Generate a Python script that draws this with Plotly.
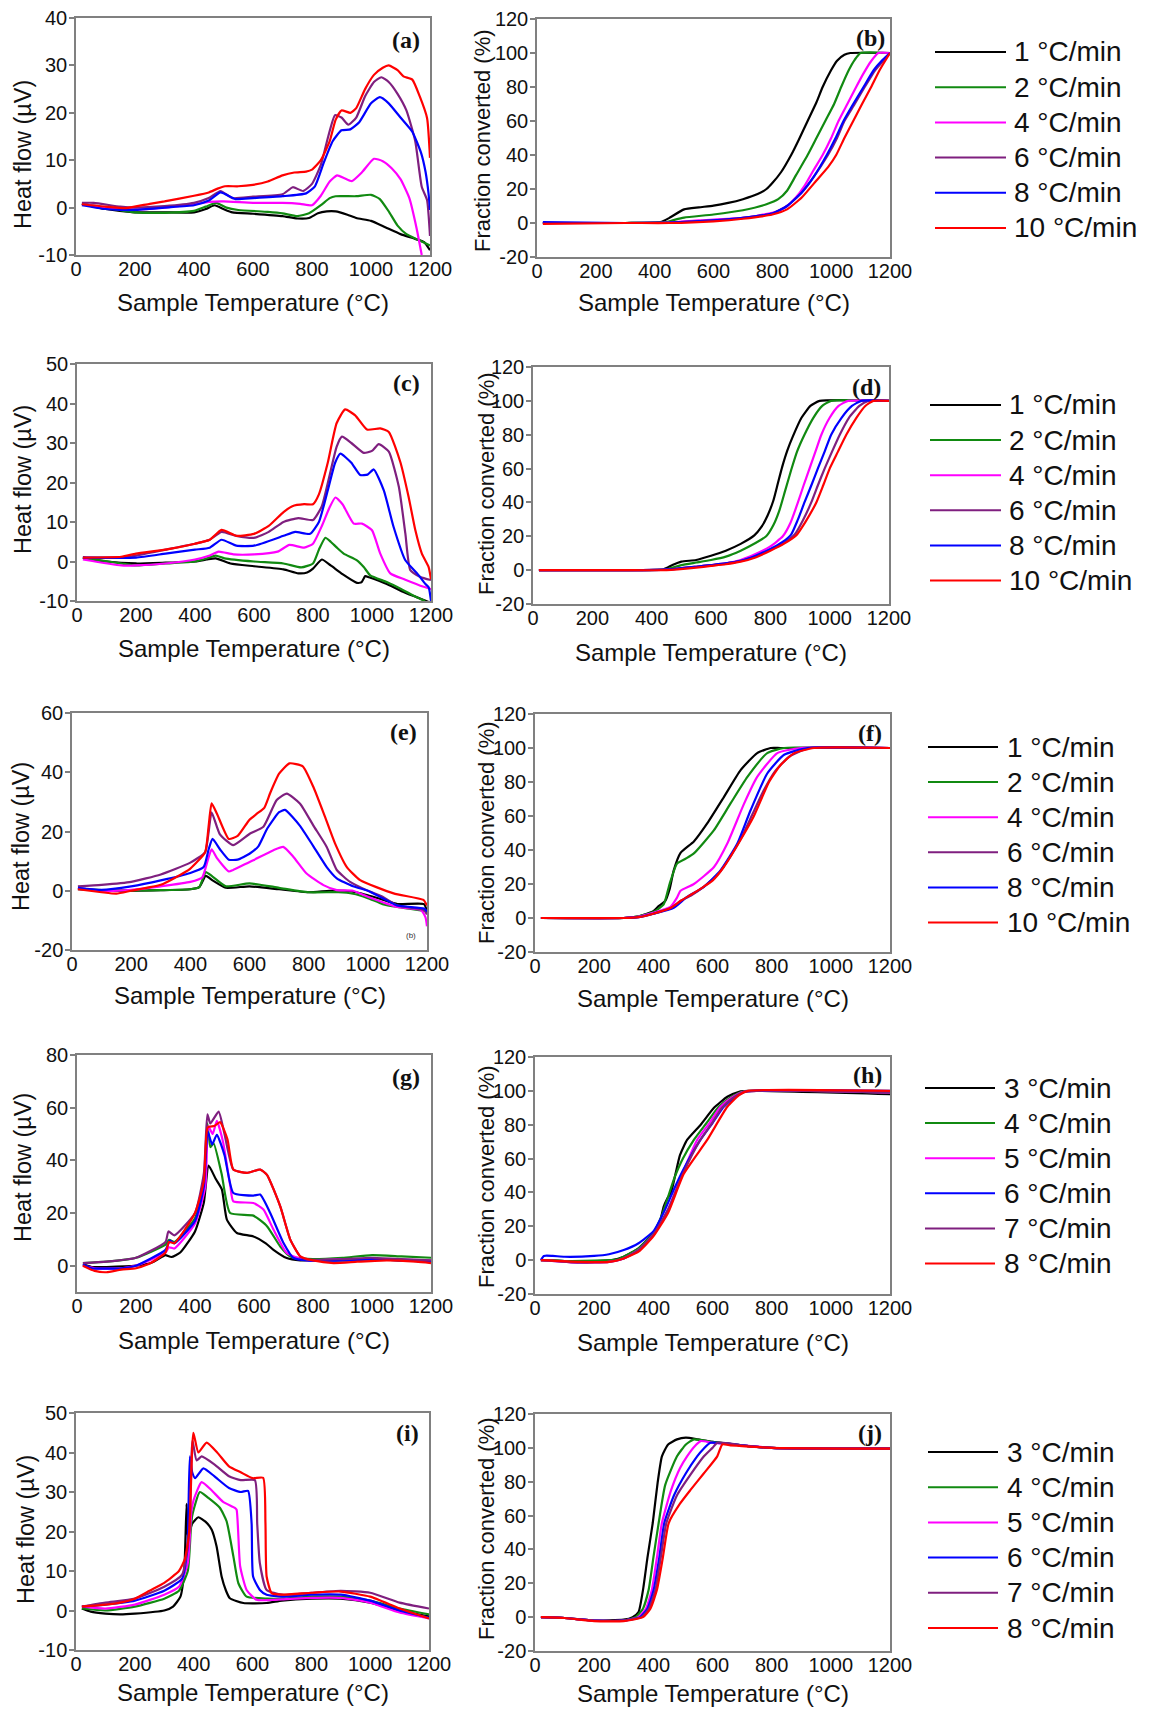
import plotly.graph_objects as go

# ------------------------------------------------------------------ data
RATES_AF = ["1 °C/min", "2 °C/min", "4 °C/min", "6 °C/min", "8 °C/min", "10 °C/min"]
RATES_GJ = ["3 °C/min", "4 °C/min", "5 °C/min", "6 °C/min", "7 °C/min", "8 °C/min"]
PANEL_LABELS = ["(a)", "(b)", "(c)", "(d)", "(e)", "(f)", "(g)", "(h)", "(i)", "(j)"]
X_TITLE = "Sample Temperature (°C)"
Y_TITLE_HEAT = "Heat flow (µV)"
Y_TITLE_CONV = "Fraction converted (%)"
X_TICKS = [0, 200, 400, 600, 800, 1000, 1200]

# ---- (a) heat flow   (series order: 1, 2, 4, 6, 8, 10 °C/min)
A_T1 = [20, 100, 200, 300, 400, 440, 470, 500, 530, 600, 700, 750, 790, 820, 850, 880, 920, 950, 1000, 1050, 1100, 1150, 1180, 1200]
A_Y1 = [0.8, -0.3, -1.0, -1.0, -1.0, -0.3, 0.5, -0.3, -1.0, -1.3, -1.8, -2.3, -2.2, -1.2, -0.8, -0.8, -1.5, -2.2, -2.8, -4.2, -5.6, -6.6, -7.3, -9.0]
A_T2 = [20, 100, 200, 300, 400, 440, 475, 510, 550, 650, 700, 750, 790, 830, 860, 880, 950, 1000, 1030, 1060, 1090, 1120, 1160, 1200]
A_Y2 = [0.8, 0.0, -1.0, -1.1, -0.7, 0.2, 1.0, 0.0, -0.5, -0.9, -1.2, -1.8, -1.2, 0.5, 2.0, 2.4, 2.4, 2.7, 1.8, -0.8, -3.8, -5.6, -6.8, -8.0]
A_T3 = [20, 100, 200, 300, 400, 450, 500, 600, 700, 760, 800, 830, 860, 885, 910, 935, 970, 1010, 1040, 1070, 1100, 1130, 1155, 1172]
A_Y3 = [0.8, 0.0, -0.4, 0.0, 0.7, 1.2, 1.3, 1.0, 1.0, 0.8, 0.5, 2.5, 5.5, 6.8, 6.2, 5.6, 7.5, 10.3, 9.8, 8.3, 6.0, 2.0, -4.5, -10.0]
A_T4 = [20, 60, 150, 200, 300, 400, 450, 490, 530, 600, 700, 735, 770, 800, 830, 855, 878, 900, 923, 950, 980, 1010, 1035, 1060, 1090, 1120, 1150, 1172, 1190, 1200]
A_Y4 = [1.0, 1.0, 0.2, 0.0, 0.3, 1.0, 2.0, 3.5, 2.0, 2.3, 2.8, 4.3, 3.5, 5.0, 9.0, 15.0, 19.5, 19.0, 17.5, 19.0, 23.5, 26.5, 27.5, 26.5, 24.0, 20.5, 14.0, 4.4, 1.6, -6.0]
A_T5 = [20, 100, 150, 200, 300, 400, 450, 490, 540, 600, 700, 780, 810, 840, 870, 900, 930, 960, 1000, 1030, 1060, 1100, 1140, 1170, 1185, 1195, 1200]
A_Y5 = [0.5, -0.3, -0.5, -0.5, 0.0, 0.5, 1.5, 3.2, 1.8, 2.0, 2.4, 3.0, 4.5, 9.5, 14.0, 16.3, 16.5, 18.0, 22.0, 23.3, 22.0, 19.0, 16.0, 11.5, 7.5, 3.0, -0.5]
A_T6 = [20, 100, 170, 250, 300, 400, 450, 480, 505, 550, 600, 650, 700, 740, 780, 800, 830, 860, 880, 900, 930, 950, 980, 1010, 1040, 1060, 1090, 1110, 1140, 1165, 1190, 1200]
A_Y6 = [0.7, 0.2, -0.1, 0.8, 1.3, 2.5, 3.2, 4.0, 4.5, 4.5, 4.8, 5.5, 6.8, 7.4, 7.6, 8.0, 10.0, 14.0, 18.5, 20.5, 20.0, 21.0, 25.0, 28.0, 29.5, 30.0, 29.0, 27.7, 27.0, 23.5, 18.9, 10.5]

# ---- (b) fraction converted
B_T1 = [20, 300, 420, 450, 500, 550, 600, 650, 700, 750, 780, 800, 830, 864, 890, 920, 950, 971, 1000, 1020, 1045, 1065, 1200]
B_Y1 = [0, 0, 0.5, 3, 8, 9.2, 10.2, 11.8, 14, 17, 20, 23.5, 30, 40, 49, 60, 71, 80, 90, 95.5, 99, 100, 100]
B_T2 = [20, 300, 440, 470, 500, 600, 700, 780, 820, 850, 880, 920, 950, 980, 1010, 1034, 1060, 1080, 1100, 1200]
B_Y2 = [0, 0, 0.5, 2, 3.2, 5, 7.5, 11, 14, 19, 28, 40, 50, 60, 70, 80, 90, 96, 100, 100]
B_T3 = [20, 300, 450, 550, 700, 800, 830, 850, 880, 910, 940, 971, 1000, 1025, 1055, 1085, 1110, 1135, 1160, 1200]
B_Y3 = [0, 0, 0.3, 1.5, 3, 6, 8, 10, 15, 22, 31, 40, 50, 60, 70, 80, 88, 95, 100, 100]
B_T4 = [20, 300, 450, 600, 700, 800, 850, 900, 940, 989, 1020, 1045, 1080, 1114, 1150, 1180, 1200]
B_Y4 = [0, 0, 0.3, 1.5, 3, 5.5, 10, 18, 27, 40, 50, 60, 70, 80, 90, 96, 100]
B_T5 = [20, 300, 450, 600, 700, 800, 850, 900, 940, 985, 1015, 1042, 1075, 1110, 1145, 1175, 1200]
B_Y5 = [0.5, 0, 0.3, 1.5, 3, 5.5, 10, 18, 27, 40, 50, 60, 70, 80, 90, 96, 100]
B_T6 = [20, 300, 450, 600, 700, 800, 850, 900, 950, 990, 1017, 1045, 1075, 1105, 1136, 1165, 1200]
B_Y6 = [-0.5, 0, 0, 1, 2.5, 5, 8, 15, 25, 33, 40, 50, 60, 70, 80, 90, 100]

# ---- (c) heat flow
C_T1 = [20, 100, 200, 300, 400, 440, 470, 520, 600, 700, 750, 780, 800, 830, 860, 900, 949, 965, 977, 990, 1050, 1100, 1150, 1200]
C_Y1 = [1, 0, -0.5, -0.3, 0, 0.5, 0.8, -0.5, -1.2, -2, -3, -2.8, -1.8, 0.5, -1, -3.2, -5.4, -5.2, -3.7, -4, -5.7, -7.5, -9, -10.5]
C_T2 = [20, 150, 200, 300, 400, 440, 470, 500, 600, 700, 760, 800, 820, 842, 860, 881, 904, 949, 972, 994, 1050, 1100, 1150, 1180]
C_Y2 = [1, -0.5, -1, -0.5, 0, 0.8, 1.5, 0.8, 0, -0.5, -1.5, -0.5, 3, 6, 5, 3.5, 2, 0.3, -1.4, -3.5, -5.2, -7, -9, -10]
C_T3 = [20, 150, 200, 300, 400, 450, 480, 530, 600, 680, 720, 770, 800, 830, 855, 876, 900, 938, 966, 1000, 1028, 1062, 1113, 1175, 1200]
C_Y3 = [0.5, -1, -1, -0.5, 0.5, 1.5, 2.5, 1.8, 1.8, 2.5, 4.2, 3.5, 4.5, 9, 13.5, 16.2, 14.5, 9.6, 9.6, 7.9, 2, -3, -4.6, -6.4, -7]
C_T4 = [20, 150, 200, 300, 400, 450, 490, 540, 600, 650, 700, 750, 800, 830, 860, 880, 898, 930, 972, 1000, 1023, 1057, 1091, 1113, 1130, 1164, 1200]
C_Y4 = [1, 1, 1.5, 3, 4.5, 5.5, 7.5, 6.5, 6, 7.5, 10, 11, 10.5, 14, 23, 29, 31.6, 30, 27.5, 28, 29.7, 27.8, 18.9, 7.1, -2.2, -3.9, -4.7]
C_T5 = [20, 200, 300, 400, 450, 490, 540, 600, 700, 740, 790, 820, 850, 875, 893, 930, 960, 985, 1006, 1040, 1073, 1113, 1153, 1181, 1192, 1200]
C_Y5 = [1, 1, 2, 3, 3.5, 5.5, 4, 4, 6.5, 7.5, 7, 10, 18, 25, 27.3, 25, 21.9, 22, 23.3, 18, 8.8, 0.3, -3, -5.7, -6.5, -10]
C_T6 = [20, 150, 200, 300, 400, 450, 490, 540, 600, 650, 700, 730, 770, 800, 820, 850, 880, 909, 943, 983, 1028, 1057, 1096, 1124, 1147, 1169, 1192, 1200]
C_Y6 = [1, 1.2, 2, 3, 4.5, 5.5, 8, 6.5, 7, 9, 12.5, 14, 14.5, 14.5, 17, 25, 35, 38.5, 37, 33.4, 33.7, 32.8, 25.2, 16.4, 7.9, 2, -1.4, -4.5]

# ---- (d) fraction converted
D_T1 = [20, 300, 440, 470, 500, 550, 600, 650, 700, 746, 770, 790, 810, 825, 840, 858, 876, 905, 935, 966, 1200]
D_Y1 = [0, 0, 0.5, 3, 5, 6, 8.5, 11.5, 15.5, 20.5, 25.5, 32, 41, 51, 61, 71, 79, 90, 97, 100, 100]
D_T2 = [20, 300, 450, 500, 550, 600, 650, 700, 750, 786, 810, 830, 850, 870, 890, 915, 945, 975, 1005, 1200]
D_Y2 = [0, 0, 0.5, 3, 4.5, 6, 8, 11.5, 16, 20, 26.5, 35, 47, 59, 70, 80, 90, 97, 100, 100]
D_T3 = [20, 300, 450, 550, 600, 650, 700, 750, 800, 842, 868, 893, 912, 932, 952, 972, 1000, 1030, 1062, 1200]
D_Y3 = [0, 0, 0.3, 2, 3, 4, 6, 9.5, 14, 20, 28, 40, 50, 60, 70, 80, 90, 97, 100, 100]
D_T4 = [20, 300, 450, 550, 600, 650, 700, 750, 800, 845, 882, 910, 938, 960, 983, 1008, 1034, 1065, 1100, 1130, 1200]
D_Y4 = [0, 0, 0.3, 2, 3, 4, 5.5, 8, 12, 16, 21, 29.5, 40, 50, 60, 70, 80, 90, 97, 100, 100]
D_T5 = [20, 300, 450, 550, 600, 650, 700, 750, 800, 840, 870, 892, 915, 938, 960, 983, 1005, 1040, 1075, 1107, 1200]
D_Y5 = [0, 0, 0.3, 2, 3, 4, 5.5, 8.5, 12.5, 16.5, 21, 29.5, 40, 50, 60, 70, 80, 90, 97, 100, 100]
D_T6 = [20, 300, 450, 550, 600, 650, 700, 750, 800, 845, 887, 920, 955, 978, 1000, 1028, 1056, 1090, 1120, 1147, 1200]
D_Y6 = [0, 0, 0, 1.5, 2.5, 3.5, 5, 7.5, 11.5, 15.5, 20.5, 29, 40, 50, 60, 70, 80, 90, 97, 100, 100]

# ---- (e) heat flow
E_T1 = [20, 100, 300, 400, 430, 452, 475, 520, 600, 700, 800, 870, 920, 960, 1000, 1050, 1100, 1190, 1200]
E_Y1 = [0.5, 0, 0.2, 0.5, 1.2, 5, 3.5, 1, 1.5, 0.5, -0.5, 0, 0, -0.5, -1.5, -3, -4.5, -4.5, -7]
E_T2 = [20, 100, 300, 400, 430, 452, 475, 520, 600, 700, 800, 900, 950, 1000, 1050, 1100, 1200]
E_Y2 = [0.8, 0.2, 0.2, 0.5, 1.2, 6.3, 4.8, 1.5, 2.5, 1, -0.5, -0.5, -1, -2.5, -4.5, -5.5, -7]
E_T3 = [20, 100, 200, 300, 400, 440, 458, 472, 490, 530, 545, 613, 681, 714, 748, 793, 850, 895, 950, 1000, 1100, 1180, 1195, 1200]
E_Y3 = [1, 0, 0.3, 1.5, 3, 4.5, 10, 14, 11, 6.5, 7, 10.3, 13.7, 14.8, 11.5, 5.8, 1.9, 0.2, 0, -2, -5.5, -6.5, -9, -12]
E_T4 = [20, 100, 200, 300, 400, 450, 462, 472, 500, 545, 602, 647, 692, 726, 771, 816, 861, 895, 940, 1000, 1050, 1100, 1190, 1200]
E_Y4 = [1.5, 2, 3, 5.5, 9.5, 13, 20, 26.5, 19, 15.4, 19.3, 21.6, 30.6, 32.8, 29.4, 22, 14.8, 7, 3, 0, -2, -5, -6.5, -8]
E_T5 = [20, 100, 200, 300, 400, 445, 462, 475, 500, 530, 560, 600, 630, 660, 700, 720, 770, 816, 861, 895, 950, 1000, 1050, 1100, 1190, 1200]
E_Y5 = [1, 0.3, 1.5, 3.5, 6, 8, 14, 17.5, 14, 10.5, 10.5, 12.5, 15, 21, 26.5, 27.3, 22, 15, 8, 4.2, 1.5, 0, -2.5, -5, -6, -7]
E_T6 = [20, 100, 150, 200, 300, 350, 400, 450, 462, 472, 490, 530, 560, 600, 625, 650, 670, 700, 735, 780, 816, 855, 889, 929, 974, 1087, 1188, 1200]
E_Y6 = [0.5, -0.5, -1, 0, 2, 4.5, 7.5, 13, 22, 29.5, 26, 17.5, 18.5, 24, 26, 28, 33, 39.5, 43, 42, 35, 25, 16, 8, 3.6, -0.9, -3.1, -5]

# ---- (f) fraction converted
F_T1 = [20, 300, 350, 400, 418, 440, 455, 469, 492, 537, 582, 638, 695, 751, 797, 830, 1200]
F_Y1 = [0, 0, 1, 4, 7, 10, 17, 28, 38.3, 45, 55.6, 71, 87, 97, 100, 100, 100]
F_T2 = [20, 300, 350, 400, 435, 455, 480, 510, 537, 605, 661, 718, 785, 842, 1200]
F_Y2 = [0, 0, 1, 3.5, 8, 20, 32, 35, 38, 51.7, 67.4, 83, 97, 100, 100]
F_T3 = [20, 300, 350, 400, 458, 480, 492, 537, 605, 650, 706, 751, 819, 898, 1200]
F_Y3 = [0, 0, 0.8, 3, 6.5, 12, 16, 20, 30, 43.8, 67, 83, 97, 100, 100]
F_T4 = [20, 300, 350, 400, 460, 492, 530, 571, 620, 660, 700, 735, 770, 810, 860, 930, 1200]
F_Y4 = [0, 0, 0.5, 2.5, 6, 10, 13.5, 18.5, 26, 36, 48, 61, 74, 86, 95, 100, 100]
F_T5 = [20, 300, 350, 400, 469, 514, 571, 627, 684, 729, 785, 842, 921, 1200]
F_Y5 = [0, 0, 0.5, 2.5, 6, 12.4, 18.3, 28, 43.8, 63.5, 85, 96, 100, 100]
F_T6 = [20, 300, 350, 400, 460, 492, 530, 571, 600, 638, 695, 740, 791, 830, 876, 943, 1200]
F_Y6 = [0, 0, 0.5, 2.5, 6, 10, 14, 18.5, 22, 30, 46, 60, 80, 90, 97, 100, 100]

# ---- (g) heat flow   (series order: 3, 4, 5, 6, 7, 8 °C/min)
G_T1 = [20, 50, 100, 200, 250, 290, 300, 320, 350, 400, 430, 446, 470, 491, 508, 542, 598, 640, 666, 711, 757, 800, 900, 1000, 1100, 1200]
G_Y1 = [0.5, -0.5, -0.5, 0, 1, 3.5, 4, 3.3, 5, 13, 24, 38, 33, 29, 17.5, 12.4, 11.1, 8.5, 6, 2.9, 2, 2, 2, 2.5, 2, 1.5]
G_T2 = [20, 100, 200, 300, 312, 330, 400, 430, 442, 452, 463, 490, 519, 598, 644, 689, 723, 760, 800, 900, 1000, 1100, 1200]
G_Y2 = [1, 1.5, 3, 8, 9.8, 9, 18, 30, 54, 45, 46.5, 35, 20, 19, 15, 7.3, 3.5, 2.8, 2.5, 3, 4, 3.5, 3]
G_T3 = [20, 60, 150, 200, 300, 312, 330, 400, 435, 445, 460, 474, 495, 520, 530, 598, 632, 666, 711, 760, 800, 900, 1000, 1200]
G_Y3 = [0, -1, -1, 0, 5, 7, 6.5, 16, 30, 53, 50, 55, 47, 30, 24.4, 23.8, 21.3, 13.7, 4.8, 2.5, 2, 2.5, 2.5, 2]
G_T4 = [20, 50, 150, 200, 300, 315, 330, 400, 430, 443, 458, 474, 500, 530, 598, 621, 655, 700, 734, 780, 900, 1000, 1100, 1200]
G_Y4 = [0.5, -1, -1, 0, 6, 9.5, 8.5, 17, 30, 51, 46, 49.7, 42, 27.6, 26.6, 27, 20, 8.6, 2.9, 2, 2, 2.5, 2, 1.5]
G_T5 = [20, 100, 200, 300, 310, 330, 400, 430, 442, 452, 480, 500, 530, 576, 621, 644, 689, 723, 757, 780, 900, 1000, 1100, 1200]
G_Y5 = [1, 1.5, 3, 9, 13, 11.5, 20, 35, 57.5, 54, 58.5, 50, 36.5, 35.2, 36.5, 34.5, 22.5, 9.9, 3.5, 2.3, 2.5, 3, 2.5, 2]
G_T6 = [20, 60, 100, 150, 200, 250, 300, 312, 330, 400, 430, 443, 465, 485, 510, 530, 576, 621, 644, 689, 723, 757, 800, 870, 950, 1050, 1150, 1200]
G_Y6 = [0, -2, -2.5, -1.5, -1, 1, 5, 9, 8.5, 20, 32, 52.5, 53, 54.5, 48, 36.5, 35.2, 36.5, 34.5, 22.5, 9.9, 3.5, 2, 1, 1.5, 2, 1.5, 1]

# ---- (h) fraction converted
H_T1 = [20, 100, 200, 260, 300, 350, 400, 418, 435, 446, 460, 475, 490, 514, 560, 605, 650, 690, 720, 1200]
H_Y1 = [0, -0.5, -0.5, 0, 2, 7, 16, 20, 31.6, 36, 40, 51, 62, 71, 80, 90, 96.5, 99.5, 100, 98]
H_T2 = [20, 100, 200, 280, 350, 400, 430, 470, 500, 537, 580, 621, 660, 700, 1200]
H_Y2 = [0, -0.5, -0.3, 0.5, 7, 16, 27, 48, 60, 71, 81, 90.6, 96, 99.5, 99]
H_T3 = [20, 150, 250, 300, 350, 400, 450, 500, 548, 590, 627, 665, 705, 1200]
H_Y3 = [0, -1.5, -1, 1, 6, 15, 30, 52, 71, 81, 90.6, 96, 99.5, 99]
H_T4 = [20, 30, 60, 100, 200, 250, 300, 350, 400, 440, 470, 500, 559, 600, 638, 675, 710, 1200]
H_Y4 = [0, 2.5, 2.5, 2, 2.5, 3.5, 6, 10, 17, 30, 42, 53, 71, 81, 90.6, 96, 99.5, 100]
H_T5 = [20, 150, 250, 300, 350, 400, 450, 500, 555, 595, 632, 670, 708, 1200]
H_Y5 = [0, -1.5, -1, 1, 6, 15, 30, 51, 70, 80, 90, 96, 99.5, 99]
H_T6 = [20, 150, 250, 300, 350, 400, 450, 503, 582, 650, 690, 720, 1200]
H_Y6 = [0, -1, -1, 1, 5, 14, 28, 51, 71, 90.6, 97.5, 100, 100]

# ---- (i) heat flow
I_T1 = [20, 50, 100, 150, 200, 300, 330, 355, 368, 376, 380, 395, 416, 440, 461, 478, 495, 510, 523, 569, 648, 700, 800, 900, 1000, 1100, 1200]
I_Y1 = [0.5, -0.3, -0.8, -1, -0.8, 0, 1, 3.5, 10, 27, 18.8, 22, 23.6, 22.5, 20.5, 16.2, 8.6, 5, 3.1, 1.9, 1.9, 2.5, 3, 3, 2, 0, -1.5]
I_T2 = [20, 100, 200, 300, 350, 380, 390, 395, 421, 450, 489, 512, 535, 552, 580, 650, 700, 800, 900, 1000, 1100, 1200]
I_Y2 = [0.5, 0, 1, 3, 5, 10, 20, 24, 30, 28.5, 26, 22.6, 13.7, 6.9, 3.5, 3, 3, 3.5, 3.5, 2.5, 0.5, -1]
I_T3 = [20, 100, 200, 300, 350, 380, 392, 400, 427, 460, 500, 540, 546, 558, 580, 614, 700, 800, 900, 1000, 1100, 1200]
I_Y3 = [1, 0.5, 1.5, 4, 6, 12, 25, 28, 32.5, 30.5, 27.5, 26, 25.5, 11.2, 5.2, 2.7, 2.8, 3.2, 3.2, 2, -0.5, -2]
I_T4 = [20, 100, 200, 300, 360, 378, 387, 395, 405, 433, 470, 520, 560, 585, 597, 602, 625, 648, 700, 800, 900, 1000, 1100, 1200]
I_Y4 = [1, 1.5, 2.5, 5, 8, 15, 39, 35, 33.5, 36, 34, 31, 30, 30.3, 22, 8.6, 5.2, 4, 3.5, 4, 4, 2.5, 0, -1.8]
I_T5 = [20, 100, 200, 300, 360, 385, 396, 410, 427, 470, 520, 560, 608, 616, 625, 648, 700, 800, 900, 1000, 1100, 1200]
I_Y5 = [1, 2, 3, 6, 9, 20, 43, 38, 39, 37, 34, 33, 33, 22, 12, 5.2, 4, 4.5, 5, 4.5, 2, 0.5]
I_T6 = [20, 100, 150, 200, 250, 300, 350, 370, 385, 399, 416, 444, 480, 520, 560, 600, 636, 644, 648, 665, 700, 800, 900, 1000, 1100, 1200]
I_Y6 = [1, 1.5, 2, 3, 5, 7, 10, 13, 20, 45, 40, 42.5, 40, 36.5, 35, 33.5, 33.6, 22.2, 8.6, 4.4, 4, 4.5, 4.8, 3.5, 0.5, -2]

# ---- (j) fraction converted
J_T1 = [20, 100, 200, 300, 330, 350, 365, 380, 398, 415, 429, 450, 480, 510, 550, 600, 700, 800, 1200]
J_Y1 = [0, -0.5, -2, -1.5, 0, 3, 16, 35, 55.6, 80, 95, 102, 105, 106, 105, 103.5, 101.5, 100, 99.5]
J_T2 = [20, 100, 200, 300, 340, 365, 384, 400, 418, 440, 480, 510, 537, 600, 700, 800, 1200]
J_Y2 = [0, -0.5, -2, -2, 0, 5, 16, 35, 55.6, 78, 95, 102, 105, 103.5, 101.5, 100, 99.5]
J_T3 = [20, 100, 200, 300, 350, 375, 395, 412, 429, 460, 490, 514, 540, 560, 600, 700, 800, 1200]
J_Y3 = [0, -0.5, -2, -2, 0, 5, 16, 35, 55.6, 75, 88, 95, 101, 104, 103, 101.5, 100, 99.5]
J_T4 = [20, 100, 200, 300, 355, 380, 401, 420, 437, 470, 510, 548, 570, 593, 650, 700, 800, 1200]
J_Y4 = [0, -0.5, -2, -2, 0, 5, 16, 35, 55.6, 72, 85, 95, 99.5, 103, 102.5, 101.5, 100, 99.5]
J_T5 = [20, 100, 200, 300, 360, 385, 407, 425, 444, 480, 525, 571, 600, 616, 660, 700, 800, 1200]
J_Y5 = [0, -0.5, -2, -2, 0, 5, 16, 35, 55.6, 72, 84, 95, 100, 103, 102.5, 101.5, 100, 99.5]
J_T6 = [20, 100, 200, 300, 365, 390, 412, 432, 452, 490, 525, 571, 616, 633, 660, 700, 800, 1200]
J_Y6 = [0, -0.5, -2.3, -2.3, 0, 5, 16, 35, 55.6, 67, 75, 85, 95, 102, 101.5, 101, 100, 99.5]

PANEL_SERIES = [
    [(A_T1, A_Y1), (A_T2, A_Y2), (A_T3, A_Y3), (A_T4, A_Y4), (A_T5, A_Y5), (A_T6, A_Y6)],
    [(B_T1, B_Y1), (B_T2, B_Y2), (B_T3, B_Y3), (B_T4, B_Y4), (B_T5, B_Y5), (B_T6, B_Y6)],
    [(C_T1, C_Y1), (C_T2, C_Y2), (C_T3, C_Y3), (C_T4, C_Y4), (C_T5, C_Y5), (C_T6, C_Y6)],
    [(D_T1, D_Y1), (D_T2, D_Y2), (D_T3, D_Y3), (D_T4, D_Y4), (D_T5, D_Y5), (D_T6, D_Y6)],
    [(E_T1, E_Y1), (E_T2, E_Y2), (E_T3, E_Y3), (E_T4, E_Y4), (E_T5, E_Y5), (E_T6, E_Y6)],
    [(F_T1, F_Y1), (F_T2, F_Y2), (F_T3, F_Y3), (F_T4, F_Y4), (F_T5, F_Y5), (F_T6, F_Y6)],
    [(G_T1, G_Y1), (G_T2, G_Y2), (G_T3, G_Y3), (G_T4, G_Y4), (G_T5, G_Y5), (G_T6, G_Y6)],
    [(H_T1, H_Y1), (H_T2, H_Y2), (H_T3, H_Y3), (H_T4, H_Y4), (H_T5, H_Y5), (H_T6, H_Y6)],
    [(I_T1, I_Y1), (I_T2, I_Y2), (I_T3, I_Y3), (I_T4, I_Y4), (I_T5, I_Y5), (I_T6, I_Y6)],
    [(J_T1, J_Y1), (J_T2, J_Y2), (J_T3, J_Y3), (J_T4, J_Y4), (J_T5, J_Y5), (J_T6, J_Y6)],
]
ROW_RATES = [RATES_AF, RATES_AF, RATES_AF, RATES_GJ, RATES_GJ]

# ------------------------------------------------------------------ style / layout
W, H = 1153, 1710          # target picture size (browser window)
OFF = 8                    # page body margin in front of the figure
FIG_W, FIG_H = W - OFF, H - OFF

BLACK, GREEN, MAGENTA, PURPLE, BLUE, RED = "#000000", "#118a11", "#ff00ff", "#7f1f7f", "#0000ff", "#ff0000"
COLORS_AF = [BLACK, GREEN, MAGENTA, PURPLE, BLUE, RED]   # 1, 2, 4, 6, 8, 10 °C/min
COLORS_GJ = [BLACK, GREEN, MAGENTA, BLUE, PURPLE, RED]   # 3, 4, 5, 6, 7, 8 °C/min
ROW_COLORS = [COLORS_AF, COLORS_AF, COLORS_AF, COLORS_GJ, COLORS_GJ]
FRAME = "#808080"
TXT = "#111111"
SANS = "Liberation Sans, Arial, sans-serif"
SERIF = "Liberation Serif, Times New Roman, serif"

# plot boxes in picture pixels: left, right, top, bottom
BOXES = [
    (76, 430, 18, 255), (537, 890, 19, 257),
    (77, 431, 364, 601), (533, 889, 367, 604),
    (72, 427, 713, 950), (535, 890, 714, 952),
    (77, 431, 1055, 1292), (535, 890, 1057, 1294),
    (76, 429, 1413, 1650), (535, 890, 1414, 1651),
]
Y_RANGES = [(-10, 40), (-20, 120), (-10, 50), (-20, 120), (-20, 60),
            (-20, 120), (-10, 80), (-20, 120), (-10, 50), (-20, 120)]
Y_DTICK = [10, 20, 10, 20, 20, 20, 20, 20, 10, 20]
Y_TICK0 = [-10, -20, -10, -20, -20, -20, 0, -20, -10, -20]
YTITLE_POS = [(23, 155), (482, 141), (23, 480), (487, 484), (21, 837),
              (486, 833), (23, 1168), (486, 1177), (26, 1530), (486, 1529)]
XTITLE_Y = [302, 303, 648, 652, 995, 998, 1340, 1342, 1692, 1693]
LABEL_POS = [(422, 40), (887, 38), (422, 383), (883, 387), (419, 732),
             (884, 733), (422, 1077), (884, 1075), (421, 1433), (884, 1433)]
LEG_ROWS = [  # line x0, line x1, text x, first y, step
    (935, 1006, 1012, 52, 35.2),
    (930, 1001, 1007, 405, 35.1),
    (928, 998, 1005, 747, 35.1),
    (925, 995, 1002, 1088, 35.1),
    (928, 998, 1005, 1452, 35.2),
]


def px(x):
    return (x - OFF) / FIG_W


def py(y):
    return 1 - (y - OFF) / FIG_H


def tick_text(v):
    return ("-" if v < 0 else "") + str(abs(int(v)))


fig = go.Figure()
layout = dict(
    template="none",
    width=FIG_W, height=FIG_H,
    margin=dict(l=0, r=0, t=0, b=0, pad=0, autoexpand=False),
    paper_bgcolor="white", plot_bgcolor="white", showlegend=False,
    font=dict(family=SANS, color=TXT),
)
annotations = []
shapes = []

for k, series in enumerate(PANEL_SERIES):
    n = k + 1
    xa = "x" if n == 1 else f"x{n}"
    ya = "y" if n == 1 else f"y{n}"
    l, r, t, b = BOXES[k]
    cols = ROW_COLORS[k // 2]
    for s, (tx, vy) in enumerate(series):
        fig.add_trace(go.Scatter(
            x=tx, y=vy, mode="lines", xaxis=xa, yaxis=ya,
            line=dict(color=cols[s], width=2.2, shape="spline", smoothing=0.5),
            name=ROW_RATES[k // 2][s], hoverinfo="x+y+name",
        ))
    layout["xaxis" if n == 1 else f"xaxis{n}"] = dict(
        domain=[px(l), px(r)], anchor=ya, range=[0, 1200],
        tickvals=X_TICKS, ticktext=[tick_text(v) for v in X_TICKS],
        showline=True, linecolor=FRAME, linewidth=1.5, mirror=True,
        ticks="", automargin=False, ticklabeloverflow="allow", ticklabelstandoff=-5,
        showgrid=False, zeroline=False,
        tickfont=dict(family=SANS, size=20, color=TXT),
    )
    y0, y1 = Y_RANGES[k]
    yt = list(range(Y_TICK0[k], y1 + 1, Y_DTICK[k]))
    layout["yaxis" if n == 1 else f"yaxis{n}"] = dict(
        domain=[py(b), py(t)], anchor=xa, range=[y0, y1],
        tickvals=yt, ticktext=[tick_text(v) for v in yt],
        showline=True, linecolor=FRAME, linewidth=1.5, mirror=True,
        ticks="outside", ticklen=5, tickcolor=FRAME, tickwidth=1.5,
        showgrid=False, zeroline=False, automargin=False,
        ticklabeloverflow="allow", ticklabelstandoff=-2,
        tickfont=dict(family=SANS, size=20, color=TXT),
    )
    # axis titles
    annotations.append(dict(
        text=X_TITLE, xref="paper", yref="paper", x=px((l + r) / 2), y=py(XTITLE_Y[k]),
        xanchor="center", yanchor="middle", showarrow=False,
        font=dict(family=SANS, size=24, color=TXT),
    ))
    tx_, ty_ = YTITLE_POS[k]
    heat = (k % 2 == 0)
    annotations.append(dict(
        text=Y_TITLE_HEAT if heat else Y_TITLE_CONV,
        xref="paper", yref="paper", x=px(tx_), y=py(ty_), textangle=-90,
        xanchor="center", yanchor="middle", showarrow=False,
        font=dict(family=SANS, size=23.5 if heat else 22, color=TXT),
    ))
    lx, ly = LABEL_POS[k]
    annotations.append(dict(
        text=f"<b>{PANEL_LABELS[k]}</b>", xref="paper", yref="paper", x=px(lx), y=py(ly),
        xanchor="right", yanchor="middle", showarrow=False,
        font=dict(family=SERIF, size=24, color=TXT),
    ))

# small stray label inside panel (e)
annotations.append(dict(
    text="(b)", xref="paper", yref="paper", x=px(411), y=py(936),
    xanchor="center", yanchor="middle", showarrow=False,
    font=dict(family=SANS, size=8, color="#333333"),
))

# legends (one per row)
for row, (x0, x1, xt, yfirst, step) in enumerate(LEG_ROWS):
    cols = ROW_COLORS[row]
    for s, lab in enumerate(ROW_RATES[row]):
        yy = yfirst + s * step
        shapes.append(dict(
            type="line", xref="paper", yref="paper",
            x0=px(x0), x1=px(x1), y0=py(yy), y1=py(yy),
            line=dict(color=cols[s], width=2),
        ))
        annotations.append(dict(
            text=lab, xref="paper", yref="paper", x=px(xt), y=py(yy),
            xanchor="left", yanchor="middle", showarrow=False,
            font=dict(family=SANS, size=28, color=TXT),
        ))

layout["annotations"] = annotations
layout["shapes"] = shapes
fig.update_layout(**layout)
fig.write_html("out.html")
